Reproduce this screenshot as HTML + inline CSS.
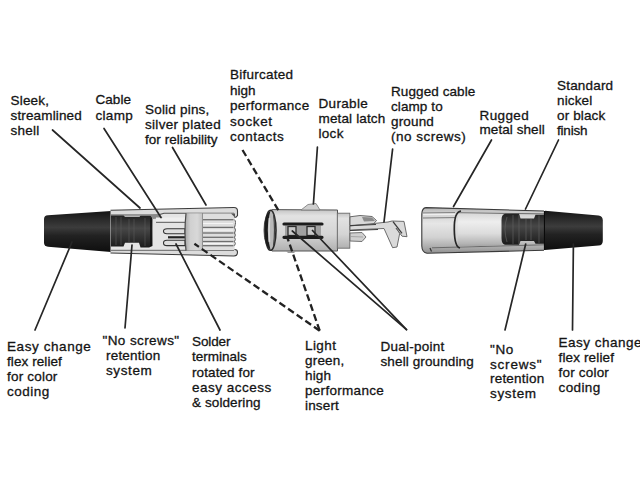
<!DOCTYPE html>
<html><head><meta charset="utf-8">
<style>
html,body{margin:0;padding:0;background:#fff;}
body{width:640px;height:480px;position:relative;overflow:hidden;}
.t{position:absolute;font-family:"Liberation Sans",sans-serif;color:#141414;white-space:pre;line-height:15px;height:15px;-webkit-text-stroke:0.3px #141414;}
svg{position:absolute;left:0;top:0;filter:blur(0.3px);}
</style></head><body>
<svg width="640" height="480" viewBox="0 0 640 480">
<defs>
  <linearGradient id="boot" x1="0" y1="0" x2="0" y2="1">
    <stop offset="0" stop-color="#151515"/>
    <stop offset="0.25" stop-color="#2e2e2e"/>
    <stop offset="0.4" stop-color="#3c3c3c"/>
    <stop offset="0.6" stop-color="#222"/>
    <stop offset="1" stop-color="#0e0e0e"/>
  </linearGradient>
  <linearGradient id="shell" x1="0" y1="0" x2="0" y2="1">
    <stop offset="0" stop-color="#b4b4b4"/>
    <stop offset="0.12" stop-color="#d0d0d0"/>
    <stop offset="0.35" stop-color="#e6e6e6"/>
    <stop offset="0.65" stop-color="#d2d2d2"/>
    <stop offset="0.88" stop-color="#a9a9a9"/>
    <stop offset="1" stop-color="#909090"/>
  </linearGradient>
  <linearGradient id="ins" x1="0" y1="0" x2="0" y2="1">
    <stop offset="0" stop-color="#c4c4c4"/>
    <stop offset="0.15" stop-color="#e2e2e2"/>
    <stop offset="0.6" stop-color="#d4d4d4"/>
    <stop offset="1" stop-color="#b0b0b0"/>
  </linearGradient>
  <linearGradient id="chuck" x1="0" y1="0" x2="0" y2="1">
    <stop offset="0" stop-color="#222"/>
    <stop offset="0.4" stop-color="#474747"/>
    <stop offset="1" stop-color="#1a1a1a"/>
  </linearGradient>
  <linearGradient id="cyl" x1="0" y1="0" x2="0" y2="1">
    <stop offset="0" stop-color="#d8d8d8"/>
    <stop offset="0.25" stop-color="#eeeeee"/>
    <stop offset="0.6" stop-color="#dcdcdc"/>
    <stop offset="0.9" stop-color="#b4b4b4"/>
    <stop offset="1" stop-color="#a0a0a0"/>
  </linearGradient>
  <linearGradient id="sleeve" x1="0" y1="0" x2="1" y2="0">
    <stop offset="0" stop-color="#a8a8a8"/>
    <stop offset="0.3" stop-color="#d0d0d0"/>
    <stop offset="0.7" stop-color="#d8d8d8"/>
    <stop offset="1" stop-color="#c2c2c2"/>
  </linearGradient>
</defs>

<!-- ===== LEFT CONNECTOR ===== -->
<path d="M48,215.2 L111,211 L111,252 L48,246.8 Q44,246.3 44,242.5 L44,219 Q44,215.5 48,215.2 Z" fill="url(#boot)"/>
<!-- shell outer -->
<path d="M110.5,210.2 L234,207.5 Q237.5,207.5 237.5,211 L237.5,215.5 Q236.5,217.5 234.5,217.5 L235.5,232 L234.5,249.5 Q237.5,249.5 237.5,252 Q237.5,256 234,256 L110.5,253 Z" fill="#dcdcdc"/>
<!-- interior cavity -->
<path d="M111,215 L158,215 L164,213.5 L234,213.5 L234,250 L111,250 Z" fill="#e4e4e4"/>
<path d="M111,215 L158,215 L164,213.2 L234,213.2" stroke="#505050" stroke-width="1.1" fill="none"/>
<path d="M111,250.3 L234,250.3" stroke="#666" stroke-width="1" fill="none"/>
<!-- chuck -->
<path d="M111,215.5 L123.5,215.5 L125,216.8 L139.5,216.8 L140.5,215.8 L151.5,215.8 L152.5,219 L152.5,246 L149,247.5 L140.5,247.5 L139,242.8 L125,242.8 L123.5,246.5 L111,246.5 Z" fill="url(#chuck)"/>
<path d="M116,217 L116,245 M121,217 L121,245 M129,219 L129,242 M134,219 L134,242 M145,218 L145,246" stroke="#5a5a5a" stroke-width="1" opacity="0.6"/>
<path d="M151,218 L151,246" stroke="#111" stroke-width="1.5"/>
<path d="M150,215 L158,214 L163,218 L153,219 Z" fill="#8a8a8a"/>
<!-- upper bar behind pins -->
<path d="M156,217.5 L185,217.5 L185,222 L156,222 Z" fill="#eeeeee"/>
<path d="M156,222.3 L185,222.3" stroke="#555" stroke-width="1"/>
<!-- pins -->
<path d="M167,228.8 L185,228.8 L185,233.8 L167,233.8 Q163.5,233.8 163.5,231.3 Q163.5,228.8 167,228.8 Z" fill="#dedede" stroke="#333" stroke-width="1.1"/>
<path d="M167,240.2 L185,240.2 L185,245.6 L167,245.6 Q163.5,245.6 163.5,242.9 Q163.5,240.2 167,240.2 Z" fill="#dedede" stroke="#333" stroke-width="1.1"/>
<path d="M168,237.3 L185,237.3" stroke="#222" stroke-width="2.2"/>
<!-- sleeve band -->
<path d="M186,213.3 L202.5,213.3 L202.5,250.6 L186,250.6 Q184,232 186,213.3 Z" fill="url(#sleeve)"/>
<path d="M186,213.3 Q184,232 186,250.6" stroke="#4a4a4a" stroke-width="1.2" fill="none"/>
<path d="M202.5,213.3 L202.5,250.6" stroke="#888" stroke-width="0.9"/>
<!-- grooved insert -->
<rect x="203" y="213.5" width="31" height="36.5" fill="#dedede"/>
<g stroke="#6e6e6e" stroke-width="1.3" fill="none">
  <path d="M203,219.7 L233.5,219.7"/>
  <path d="M203,227.4 L233.5,227.4"/>
  <path d="M203,233 L233.5,233"/>
  <path d="M203,237.3 L233.5,237.3"/>
  <path d="M203,241.5 L233.5,241.5"/>
  <path d="M203,245.7 L233.5,245.7"/>
</g>
<path d="M203,223.5 L233,223.5 M203,230.2 L233,230.2 M203,243.6 L233,243.6" stroke="#f4f4f4" stroke-width="1.2"/>
<path d="M231,213.5 L235,217.5 L235,213.5 Z" fill="#555"/>
<!-- shell outline -->
<path d="M110.5,210.2 L234,207.5 Q237.5,207.5 237.5,211 L237.5,215.5 Q236.5,217.5 234.5,217.5" stroke="#3c3c3c" stroke-width="1.1" fill="none"/>
<path d="M234.5,249.5 Q237.5,249.5 237.5,252 Q237.5,256 234,256 L110.5,253" stroke="#3c3c3c" stroke-width="1.1" fill="none"/>
<path d="M234.5,219.7 Q236.5,221.5 234.5,227.4 M234.5,227.4 Q236.5,230 234.5,233 M234.5,233 Q236.2,235 234.5,237.3 M234.5,237.3 Q236.2,239.5 234.5,241.5 M234.5,241.5 Q236.2,243.5 234.5,245.7" stroke="#5a5a5a" stroke-width="1" fill="none"/>
<!-- ===== MIDDLE INSERT ===== -->
<path d="M272,209.6 L337.5,210 L337.5,251 L272,251 Q264,246 264,230.3 Q264,214 272,209.6 Z" fill="url(#ins)" stroke="#555" stroke-width="1"/>
<ellipse cx="270.5" cy="230.3" rx="5.5" ry="20" fill="#b8b8b8" stroke="#2a2a2a" stroke-width="1.6"/>
<path d="M270.5,210.8 Q264.5,214 264.8,230.3 Q265,247 270.5,249.8 Q267.5,240 267.8,230.3 Q268,219 270.5,210.8 Z" fill="#1c1c1c"/>
<path d="M273.5,214 Q275.5,230 273.5,246" stroke="#444" stroke-width="1.2" fill="none"/>
<path d="M269.5,218 Q268.8,230 269.5,242" stroke="#d8d8d8" stroke-width="1.5" fill="none"/>
<!-- slot area -->
<rect x="285" y="225.5" width="36" height="10.5" fill="#a0a0a0"/>
<rect x="288" y="226.5" width="8" height="9" fill="#c8c8c8" stroke="#2a2a2a" stroke-width="1.3"/>
<rect x="307" y="226.5" width="8" height="9" fill="#c8c8c8" stroke="#2a2a2a" stroke-width="1.3"/>
<path d="M284,224 L322,224 M284,237.3 L322,237.3" stroke="#1c1c1c" stroke-width="3.2" stroke-linecap="round"/>
<!-- latch bump -->
<path d="M301,210 L308,204.5 L316,203.5 L320,210 Z" fill="#cfcfcf" stroke="#777" stroke-width="0.8"/>
<path d="M286,251 L288,253 L294,253 L296,251 Z" fill="#999"/>
<!-- collar -->
<rect x="337.3" y="213.2" width="12.5" height="35" fill="url(#ins)" stroke="#6a6a6a" stroke-width="0.9"/>
<!-- terminals -->
<path d="M350,216.8 L360,215.5 L372,216.5 L376.5,220.5 L373,224.5 L350,225.5 Z" fill="#d8d8d8" stroke="#5a5a5a" stroke-width="0.9"/>
<path d="M362,217 L372,217.5 L375,221 L364,221.5 Z" fill="#8a8a8a"/>
<path d="M350,226 L388,222 L392,221 L404,221.4 L407,236.7 L402,236.2 L396,228 L399.7,233.4 L397,247 L392.6,247.7 L384,228.5 L360,229.5 L350,230.2 Z" fill="#dadada" stroke="#5e5e5e" stroke-width="0.9"/>
<path d="M393,221.6 L402,233.4" stroke="#3a3a3a" stroke-width="1.3"/>
<path d="M350,225.6 L376,224.5 M350,230.5 L378,229.5" stroke="#3a3a3a" stroke-width="1"/>
<path d="M350,233 L362,232.5 L366,237 L362,241.5 L350,241 Z" fill="#d0d0d0" stroke="#666" stroke-width="0.9"/>
<path d="M350,236.5 L363,237" stroke="#999" stroke-width="0.8"/>

<!-- ===== RIGHT CONNECTOR ===== -->
<path d="M426,207.6 L544,211 L544,250.3 L427,253.2 Q422,252.5 421.8,246 L421.8,214 Q422,208 426,207.6 Z" fill="url(#shell)"/>
<!-- front face bands -->
<path d="M423,213 L455,212.6 M423,218 L455,217.6" stroke="#7a7a7a" stroke-width="1" fill="none"/>
<path d="M423,214.5 L455,214.2" stroke="#eee" stroke-width="1.5" fill="none"/>
<!-- top wall inner edge & bottom wall inner edge -->
<path d="M458,212.8 L544,213.9" stroke="#6a6a6a" stroke-width="1" fill="none"/>
<path d="M432,247.8 L544,244.8" stroke="#6a6a6a" stroke-width="1" fill="none"/>
<!-- inner cylinder -->
<path d="M458,213.5 L502,213.9 L502,245.3 L458,246.8 Z" fill="url(#cyl)"/>
<path d="M461,211 Q454,212 454.3,229.5 Q454.5,247 460,248" stroke="#262626" stroke-width="1.7" fill="none"/>
<path d="M430,248 L431.5,251.5" stroke="#333" stroke-width="1.2"/>
<!-- chuck -->
<path d="M505,213.8 L519,213.8 L520.5,218.4 L534,218.4 L535.5,214.7 L544,214.7 L544,243.8 L535.5,243.8 L534,241 L520.5,241 L519,244.7 L505,244.7 Q501.5,244 501.5,238 L501.5,220 Q501.5,214.5 505,213.8 Z" fill="url(#chuck)"/>
<path d="M507,217 Q503,229 507,242 M513,215 L513,244 M519,215 L519,244 M526,219 L526,240 M531,219 L531,240 M539,215.5 L539,243" stroke="#606060" stroke-width="1" fill="none" opacity="0.7"/>
<path d="M544.5,211 L544.5,250" stroke="#0a0a0a" stroke-width="1.2"/>
<!-- shell outline -->
<path d="M544,211 L426,207.6 Q422,208 421.8,214 L421.8,246 Q422,252.5 427,253.2 L544,250.3" stroke="#3a3a3a" stroke-width="1.1" fill="none"/>
<!-- boot -->
<path d="M545,210.8 L598.5,215.6 Q602.8,216.2 602.8,220.5 L602.8,241 Q602.8,245.2 598.5,245.6 L545,250 Z" fill="url(#boot)"/>

<!-- ===== LEADER LINES ===== -->
<g stroke="#262626" stroke-width="1.7" fill="none" stroke-linecap="round">
  <path d="M52.5,130 L140,208"/>
  <path d="M104,128.5 L161,217.5"/>
  <path d="M172.5,147.5 L206,205"/>
  <path d="M317.4,147.2 L313.4,204"/>
  <path d="M392.6,149.2 L384,222"/>
  <path d="M491.5,140 L453.5,206.5"/>
  <path d="M558.5,140 L525.5,209"/>
  <path d="M72,242 L35,330"/>
  <path d="M132,245 L125,328"/>
  <path d="M176,244 L220,330"/>
  <path d="M292.3,231 L406.5,329.6"/>
  <path d="M312.5,230.5 L406.5,329.6"/>
  <path d="M525.7,244 L505,330"/>
  <path d="M573.4,244 L572.5,330"/>
</g>
<g stroke="#222" stroke-width="2.3" fill="none" stroke-dasharray="7,3.5">
  <path d="M242.5,150 L280,213"/>
  <path d="M319.7,330.7 L194.4,243.75"/>
  <path d="M319.7,330.7 L287.3,237.5"/>
</g>
</svg>

<div class="t" style="left:10.5px;top:92.8px;font-size:13.5px;letter-spacing:0.2px;word-spacing:0px">Sleek,</div>
<div class="t" style="left:10.5px;top:108.0px;font-size:13.5px;letter-spacing:0.15px;word-spacing:0px">streamlined</div>
<div class="t" style="left:10.5px;top:123.2px;font-size:13.5px;letter-spacing:0.25px;word-spacing:0px">shell</div>
<div class="t" style="left:95.5px;top:92.3px;font-size:13.5px;letter-spacing:0.05px;word-spacing:0px">Cable</div>
<div class="t" style="left:95.5px;top:107.8px;font-size:13.5px;letter-spacing:0.3px;word-spacing:0px">clamp</div>
<div class="t" style="left:145.0px;top:102.3px;font-size:13.5px;letter-spacing:0.2px;word-spacing:0px">Solid pins,</div>
<div class="t" style="left:145.0px;top:117.0px;font-size:13.5px;letter-spacing:0.3px;word-spacing:0px">silver plated</div>
<div class="t" style="left:145.0px;top:131.7px;font-size:13.5px;letter-spacing:0.04px;word-spacing:0px">for reliability</div>
<div class="t" style="left:230.0px;top:67.3px;font-size:13.5px;letter-spacing:0.25px;word-spacing:0px">Bifurcated</div>
<div class="t" style="left:230.0px;top:82.7px;font-size:13.5px;letter-spacing:0px;word-spacing:0px">high</div>
<div class="t" style="left:230.0px;top:98.1px;font-size:13.5px;letter-spacing:0.34px;word-spacing:0px">performance</div>
<div class="t" style="left:230.0px;top:113.5px;font-size:13.5px;letter-spacing:0.6px;word-spacing:0px">socket</div>
<div class="t" style="left:230.0px;top:128.9px;font-size:13.5px;letter-spacing:0.5px;word-spacing:0px">contacts</div>
<div class="t" style="left:318.5px;top:95.6px;font-size:13.5px;letter-spacing:0.33px;word-spacing:0px">Durable</div>
<div class="t" style="left:318.5px;top:110.7px;font-size:13.5px;letter-spacing:0.15px;word-spacing:0px">metal latch</div>
<div class="t" style="left:318.5px;top:125.8px;font-size:13.5px;letter-spacing:0.3px;word-spacing:0px">lock</div>
<div class="t" style="left:391.0px;top:84.4px;font-size:13.5px;letter-spacing:0.09px;word-spacing:0px">Rugged cable</div>
<div class="t" style="left:391.0px;top:99.4px;font-size:13.5px;letter-spacing:0.09px;word-spacing:0px">clamp to</div>
<div class="t" style="left:391.0px;top:114.4px;font-size:13.5px;letter-spacing:0.16px;word-spacing:0px">ground</div>
<div class="t" style="left:391.0px;top:129.4px;font-size:13.5px;letter-spacing:0.5px;word-spacing:0px">(no screws)</div>
<div class="t" style="left:479.5px;top:107.6px;font-size:13.5px;letter-spacing:0.4px;word-spacing:0px">Rugged</div>
<div class="t" style="left:479.5px;top:122.2px;font-size:13.5px;letter-spacing:0.07px;word-spacing:0px">metal shell</div>
<div class="t" style="left:557.0px;top:77.5px;font-size:13.5px;letter-spacing:0.19px;word-spacing:0px">Standard</div>
<div class="t" style="left:557.0px;top:92.6px;font-size:13.5px;letter-spacing:0.14px;word-spacing:0px">nickel</div>
<div class="t" style="left:557.0px;top:107.7px;font-size:13.5px;letter-spacing:0.14px;word-spacing:0px">or black</div>
<div class="t" style="left:557.0px;top:122.8px;font-size:13.5px;letter-spacing:-0.2px;word-spacing:0px">finish</div>
<div class="t" style="left:7.0px;top:338.8px;font-size:13.5px;letter-spacing:0.58px;word-spacing:0px">Easy change</div>
<div class="t" style="left:7.0px;top:354.0px;font-size:13.5px;letter-spacing:0.08px;word-spacing:0px">flex relief</div>
<div class="t" style="left:7.0px;top:369.2px;font-size:13.5px;letter-spacing:0.2px;word-spacing:0px">for color</div>
<div class="t" style="left:7.0px;top:384.4px;font-size:13.5px;letter-spacing:0.5px;word-spacing:0px">coding</div>
<div class="t" style="left:102.5px;top:332.5px;font-size:13.5px;letter-spacing:0.4px;word-spacing:0px">&quot;No screws&quot;</div>
<div class="t" style="left:106.0px;top:347.5px;font-size:13.5px;letter-spacing:0.2px;word-spacing:0px">retention</div>
<div class="t" style="left:106.0px;top:362.5px;font-size:13.5px;letter-spacing:0.6px;word-spacing:0px">system</div>
<div class="t" style="left:192.0px;top:333.8px;font-size:13.5px;letter-spacing:-0.1px;word-spacing:0px">Solder</div>
<div class="t" style="left:192.0px;top:349.2px;font-size:13.5px;letter-spacing:0.0px;word-spacing:0px">terminals</div>
<div class="t" style="left:192.0px;top:364.6px;font-size:13.5px;letter-spacing:0.1px;word-spacing:0px">rotated for</div>
<div class="t" style="left:192.0px;top:380.0px;font-size:13.5px;letter-spacing:0.5px;word-spacing:0px">easy access</div>
<div class="t" style="left:192.0px;top:395.4px;font-size:13.5px;letter-spacing:0.1px;word-spacing:0px">&amp; soldering</div>
<div class="t" style="left:305.0px;top:337.5px;font-size:13.5px;letter-spacing:0.42px;word-spacing:0px">Light</div>
<div class="t" style="left:305.0px;top:352.7px;font-size:13.5px;letter-spacing:0.2px;word-spacing:0px">green,</div>
<div class="t" style="left:305.0px;top:367.9px;font-size:13.5px;letter-spacing:0.13px;word-spacing:0px">high</div>
<div class="t" style="left:305.0px;top:383.1px;font-size:13.5px;letter-spacing:0.3px;word-spacing:0px">performance</div>
<div class="t" style="left:305.0px;top:398.3px;font-size:13.5px;letter-spacing:0.16px;word-spacing:0px">insert</div>
<div class="t" style="left:380.5px;top:339.4px;font-size:13.5px;letter-spacing:0.25px;word-spacing:0px">Dual-point</div>
<div class="t" style="left:380.5px;top:354.2px;font-size:13.5px;letter-spacing:0.12px;word-spacing:0px">shell grounding</div>
<div class="t" style="left:490.0px;top:342.4px;font-size:13.5px;letter-spacing:0.6px;word-spacing:0px">&quot;No</div>
<div class="t" style="left:490.0px;top:356.9px;font-size:13.5px;letter-spacing:0.8px;word-spacing:0px">screws&quot;</div>
<div class="t" style="left:490.0px;top:371.4px;font-size:13.5px;letter-spacing:0.2px;word-spacing:0px">retention</div>
<div class="t" style="left:490.0px;top:385.9px;font-size:13.5px;letter-spacing:0.66px;word-spacing:0px">system</div>
<div class="t" style="left:558.5px;top:335.2px;font-size:13.5px;letter-spacing:0.5px;word-spacing:0px">Easy change</div>
<div class="t" style="left:558.5px;top:350.0px;font-size:13.5px;letter-spacing:0.14px;word-spacing:0px">flex relief</div>
<div class="t" style="left:558.5px;top:364.8px;font-size:13.5px;letter-spacing:0.2px;word-spacing:0px">for color</div>
<div class="t" style="left:558.5px;top:379.6px;font-size:13.5px;letter-spacing:0.4px;word-spacing:0px">coding</div>
</body></html>
